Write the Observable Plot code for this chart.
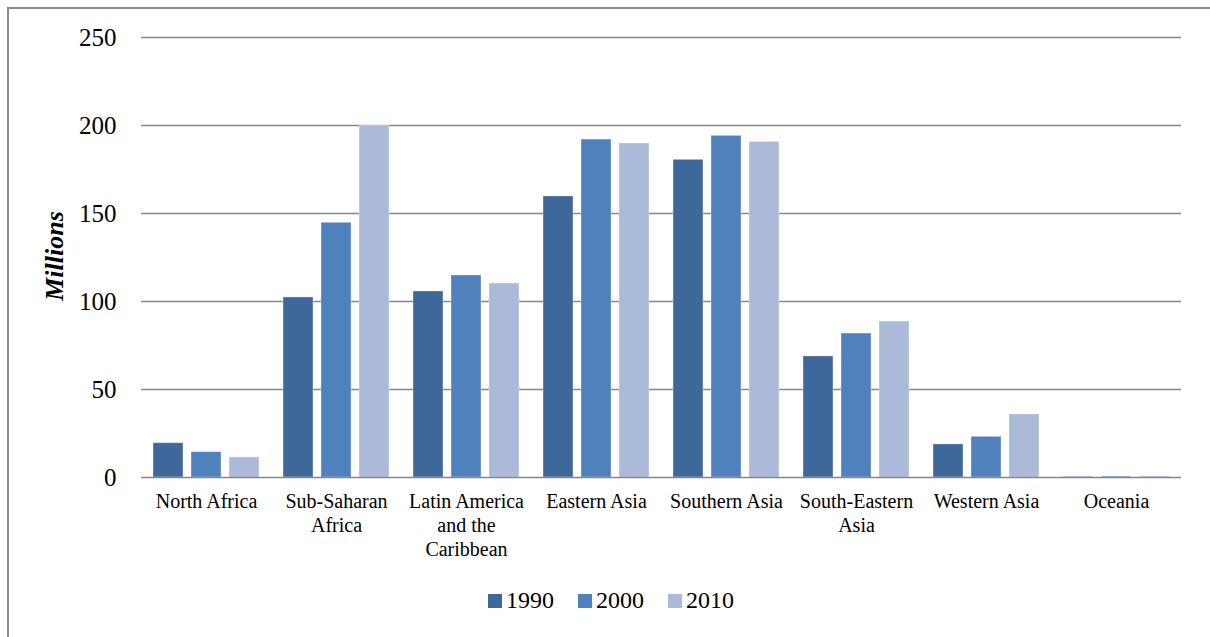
<!DOCTYPE html>
<html>
<head>
<meta charset="utf-8">
<script src="https://cdn.jsdelivr.net/npm/d3@7"></script>
<script src="https://cdn.jsdelivr.net/npm/@observablehq/plot@0.6"></script>
<style>
  html, body { margin: 0; padding: 0; background: #fff; }
  #wrap { position: relative; width: 1210px; height: 637px; overflow: hidden; font-family: "Liberation Serif", "DejaVu Serif", serif; }
  #frame { position: absolute; left: 7px; top: 7px; width: 1220px; height: 650px; border-left: 2px solid #8c8c8c; border-top: 2px solid #8c8c8c; box-sizing: border-box; }
  #chart { position: absolute; left: 0; top: 0; }
  #ylabel { position: absolute; left: 55px; top: 256px; transform: translate(-50%, -50%) rotate(-90deg); font-size: 26px; font-weight: bold; font-style: italic; white-space: nowrap; color: #000; }
  #legend { position: absolute; top: 587px; left: 0; width: 1222px; display: flex; justify-content: center; gap: 24px; font-size: 24px; color: #000; }
  .item { display: flex; align-items: center; gap: 4px; }
  .sw { width: 14px; height: 14px; display: inline-block; }
</style>
</head>
<body>
<div id="wrap">
  <div id="frame"></div>
  <div id="chart"></div>
  <div id="ylabel">Millions</div>
  <div id="legend"></div>
</div>
<script>
const regions = ["North Africa", "Sub-Saharan Africa", "Latin America and the Caribbean", "Eastern Asia", "Southern Asia", "South-Eastern Asia", "Western Asia", "Oceania"];
const regionLabels = ["North Africa", "Sub-Saharan\nAfrica", "Latin America\nand the\nCaribbean", "Eastern Asia", "Southern Asia", "South-Eastern\nAsia", "Western Asia", "Oceania"];
const years = ["1990", "2000", "2010"];
const values1990 = [19.5, 102.3, 105.7, 159.7, 180.5, 68.8, 18.8, 0.3];
const values2000 = [14.4, 144.7, 114.8, 192.0, 194.1, 81.8, 23.1, 0.5];
const values2010 = [11.4, 200.0, 110.2, 189.8, 190.7, 88.6, 35.8, 0.6];
const colors = ["#3F689A", "#4F81BD", "#AABAD8"];
const yTicks = [0, 50, 100, 150, 200, 250];

const series = [values1990, values2000, values2010];
const data = [];
regions.forEach((r, i) => years.forEach((y, j) => data.push({region: r, year: y, value: series[j][i]})));
const labelMap = new Map(regions.map((r, i) => [r, regionLabels[i]]));

const chart = Plot.plot({
  width: 1210,
  height: 580,
  marginTop: 37,
  marginLeft: 138,
  marginRight: 27,
  marginBottom: 103,
  style: {fontFamily: "'Liberation Serif', 'DejaVu Serif', serif", color: "#000", background: "transparent"},
  fx: {domain: regions, padding: 0},
  x: {domain: years, paddingInner: 0.205, paddingOuter: 0.277, axis: null},
  y: {domain: [0, 250], ticks: yTicks},
  color: {domain: years, range: colors},
  marks: [
    Plot.gridY(yTicks.slice(1), {stroke: "#868686", strokeOpacity: 1, strokeWidth: 1.5}),
    Plot.barY(data, {fx: "region", x: "year", y: "value", fill: "year", stroke: "#ffffff", strokeOpacity: 0.35, strokeWidth: 1}),
    Plot.ruleY([0], {stroke: "#868686", strokeWidth: 1.5}),
    Plot.axisY(yTicks, {tickSize: 0, tickPadding: 25, fontSize: 25, label: null}),
    Plot.axisFx({anchor: "bottom", tickSize: 0, tickPadding: 13, fontSize: 20, lineHeight: 1.2, label: null, tickFormat: d => labelMap.get(d)})
  ]
});
document.getElementById("chart").appendChild(chart);

const legend = document.getElementById("legend");
years.forEach((y, j) => {
  const item = document.createElement("div");
  item.className = "item";
  const sw = document.createElement("span");
  sw.className = "sw";
  sw.style.background = colors[j];
  const t = document.createElement("span");
  t.textContent = y;
  item.appendChild(sw);
  item.appendChild(t);
  legend.appendChild(item);
});
</script>
</body>
</html>
